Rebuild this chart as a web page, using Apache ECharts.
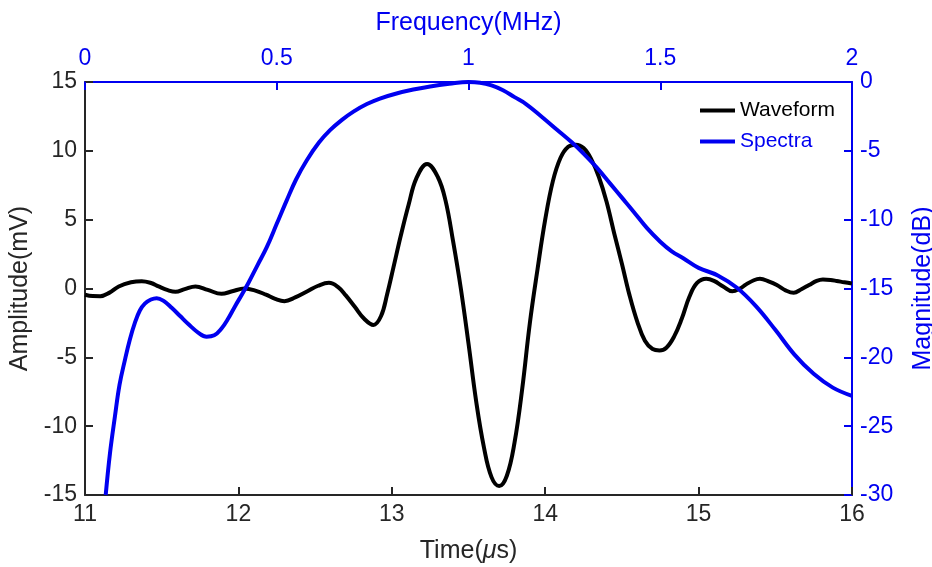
<!DOCTYPE html>
<html>
<head>
<meta charset="utf-8">
<title>Waveform and Spectra</title>
<script src="https://cdn.jsdelivr.net/npm/echarts@6/dist/echarts.min.js"></script>
<style>
  html, body { margin: 0; padding: 0; background: #fff; }
  #chart { width: 932px; height: 567px; }
</style>
</head>
<body>
<div id="chart"></div>
<script>
// waveform: time (us) vs amplitude (mV)
const waveTime = [11.00, 11.05, 11.10, 11.16, 11.22, 11.30, 11.37, 11.43, 11.48, 11.54,
  11.59, 11.65, 11.72, 11.80, 11.89, 11.96, 12.04, 12.11, 12.18, 12.24,
  12.30, 12.37, 12.45, 12.52, 12.59, 12.65, 12.70, 12.76, 12.82, 12.88,
  12.93, 12.97, 13.01, 13.06, 13.11, 13.16, 13.23, 13.30, 13.35, 13.40,
  13.45, 13.50, 13.55, 13.60, 13.65, 13.70, 13.75, 13.80, 13.85, 13.90,
  13.95, 14.00, 14.05, 14.10, 14.15, 14.20, 14.25, 14.30, 14.35, 14.40,
  14.45, 14.50, 14.55, 14.60, 14.65, 14.70, 14.745, 14.79, 14.84, 14.89,
  14.94, 14.99, 15.05, 15.10, 15.16, 15.22, 15.27, 15.31, 15.36, 15.40,
  15.46, 15.51, 15.57, 15.62, 15.67, 15.72, 15.77, 15.81, 15.86, 15.90,
  15.95, 16.00];
const waveAmp = [-0.45, -0.55, -0.56, -0.3, 0.15, 0.45, 0.53, 0.4, 0.15, -0.12,
  -0.24, -0.05, 0.15, -0.1, -0.39, -0.2, 0.0, -0.15, -0.45, -0.75,
  -0.92, -0.65, -0.2, 0.2, 0.41, 0.1, -0.5, -1.35, -2.2, -2.65,
  -2.0, -0.4, 1.5, 3.9, 6.1, 8.0, 9.05, 8.1, 6.4, 3.4,
  0.0, -4.0, -8.2, -11.5, -13.7, -14.35, -13.6, -11.2, -7.3, -2.5,
  1.4, 5.0, 7.8, 9.5, 10.3, 10.45, 10.2, 9.4, 8.1, 6.3,
  4.0, 1.8, -0.5, -2.4, -3.8, -4.4, -4.5, -4.3, -3.5, -2.2,
  -0.6, 0.4, 0.7, 0.55, 0.15, -0.2, 0.0, 0.3, 0.6, 0.7,
  0.5, 0.25, -0.15, -0.31, -0.05, 0.25, 0.55, 0.65, 0.62, 0.55,
  0.45, 0.36];

// spectra: frequency (MHz) vs magnitude (dB)
const specFreq = [0.054, 0.065, 0.078, 0.090, 0.104, 0.117, 0.130, 0.143, 0.156, 0.172,
  0.187, 0.205, 0.226, 0.248, 0.270, 0.295, 0.317, 0.337, 0.356, 0.373,
  0.391, 0.410, 0.426, 0.45, 0.474, 0.50, 0.526, 0.55, 0.578, 0.61,
  0.639, 0.67, 0.70, 0.735, 0.769, 0.81, 0.856, 0.90, 0.95, 1.00,
  1.03, 1.06, 1.09, 1.12, 1.15, 1.19, 1.23, 1.27, 1.30, 1.334,
  1.37, 1.40, 1.43, 1.465, 1.50, 1.53, 1.56, 1.60, 1.65, 1.70,
  1.75, 1.80, 1.85, 1.90, 1.95, 2.00];
const specDb = [-30, -27.0, -24.3, -22.0, -20.2, -18.7, -17.5, -16.6, -16.1, -15.8,
  -15.7, -15.9, -16.4, -17.0, -17.6, -18.2, -18.5, -18.4, -17.9, -17.2,
  -16.3, -15.4, -14.6, -13.3, -12.0, -10.3, -8.6, -7.1, -5.7, -4.4,
  -3.5, -2.75, -2.15, -1.6, -1.2, -0.85, -0.55, -0.32, -0.13, 0.0,
  -0.05, -0.25, -0.6, -1.1, -1.6, -2.5, -3.45, -4.4, -5.2, -6.2,
  -7.4, -8.4, -9.4, -10.6, -11.6, -12.3, -12.8, -13.5, -14.05, -14.95,
  -16.3, -18.0, -19.8, -21.2, -22.2, -22.8];

// axis ranges
const timeRange = [11, 16];
const ampRange = [-15, 15];
const freqRange = [0, 2];
const dbRange = [-30, 0];

const black = '#000000';
const dark = '#262626';
const blue = '#0000f0';
const font = 'Liberation Sans, Arial, sans-serif';

const wavePts = waveTime.map((t, i) => [t, waveAmp[i]]);
const specPts = specFreq.map((f, i) => [f, specDb[i]]);

const chart = echarts.init(document.getElementById('chart'));

function axisStyle(color) {
  return {
    axisLine: { show: true, onZero: false, lineStyle: { color: color, width: 2 } },
    axisTick: { show: true, inside: true, length: 8, lineStyle: { color: color, width: 2 } },
    axisLabel: { color: color, fontSize: 23, fontFamily: font, showMinLabel: true, showMaxLabel: true },
    splitLine: { show: false },
    nameTextStyle: { color: color, fontSize: 25, fontFamily: font },
    nameLocation: 'middle'
  };
}

const option = {
  backgroundColor: '#fff',
  animation: false,
  grid: { left: 85, right: 80, top: 82, bottom: 72, outerBoundsMode: 'none', containLabel: false },
  legend: {
    orient: 'vertical',
    left: 700,
    top: 100,
    padding: 0,
    itemGap: 10,
    itemWidth: 35,
    itemHeight: 4,
    icon: 'rect',
    textStyle: { fontSize: 21, fontFamily: font },
    data: [
      { name: 'Waveform', textStyle: { color: black } },
      { name: 'Spectra', textStyle: { color: blue } }
    ]
  },
  xAxis: [
    Object.assign(axisStyle(dark), {
      type: 'value', position: 'bottom',
      min: timeRange[0], max: timeRange[1], interval: 1,
      name: '{n|Time(}{i|μ}{n|s)}', nameGap: 44,
      nameTextStyle: {
        color: dark, fontSize: 25, fontFamily: font,
        rich: {
          n: { color: dark, fontSize: 25, fontFamily: font },
          i: { color: dark, fontSize: 25, fontFamily: font, fontStyle: 'italic' }
        }
      }
    }),
    Object.assign(axisStyle(blue), {
      type: 'value', position: 'top',
      min: freqRange[0], max: freqRange[1], interval: 0.5,
      name: 'Frequency(MHz)', nameGap: 46
    })
  ],
  yAxis: [
    Object.assign(axisStyle(dark), {
      type: 'value', position: 'left',
      min: ampRange[0], max: ampRange[1], interval: 5,
      name: 'Amplitude(mV)', nameGap: 46, nameRotate: 90
    }),
    Object.assign(axisStyle(blue), {
      type: 'value', position: 'right',
      min: dbRange[0], max: dbRange[1], interval: 5,
      name: 'Magnitude(dB)', nameGap: 59, nameRotate: 90
    })
  ],
  series: [
    {
      name: 'Waveform', type: 'line', xAxisIndex: 0, yAxisIndex: 0,
      data: wavePts, showSymbol: false, symbol: 'none',
      smooth: 0.4,
      lineStyle: { color: black, width: 4 }, itemStyle: { color: black }
    },
    {
      name: 'Spectra', type: 'line', xAxisIndex: 1, yAxisIndex: 1,
      data: specPts, showSymbol: false, symbol: 'none',
      smooth: 0.4,
      lineStyle: { color: blue, width: 4 }, itemStyle: { color: blue }
    }
  ]
};
option.xAxis[1].axisLabel = Object.assign({}, option.xAxis[1].axisLabel, { margin: 12 });

chart.setOption(option);
</script>
</body>
</html>
